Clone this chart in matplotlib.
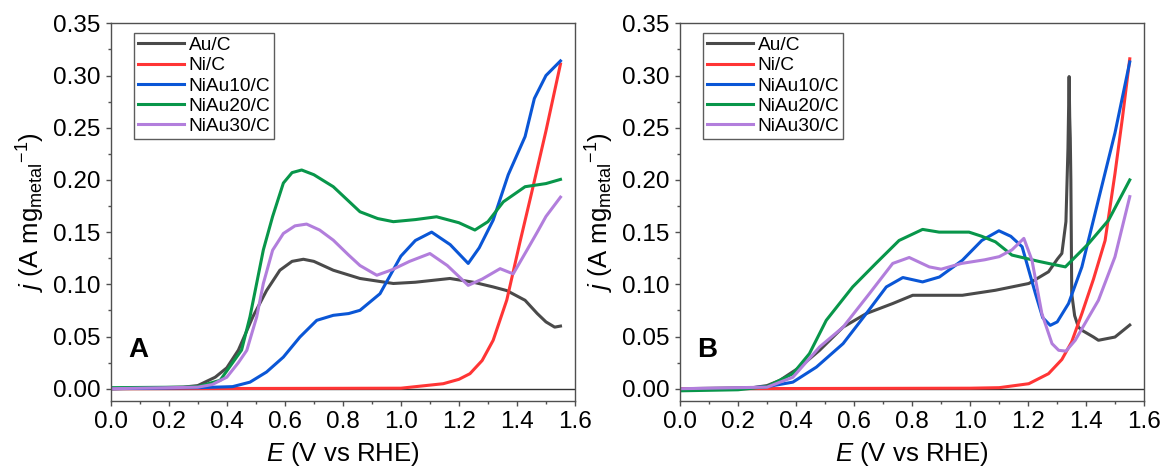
import matplotlib
matplotlib.use('Agg')
import matplotlib.pyplot as plt
from matplotlib.ticker import MultipleLocator

plt.rcParams['font.family'] = ['Liberation Sans', 'DejaVu Sans']
plt.rcParams['mathtext.fontset'] = 'custom'
plt.rcParams['mathtext.rm'] = 'Liberation Sans'
plt.rcParams['mathtext.it'] = 'Liberation Sans:italic'

labels = ['Au/C', 'Ni/C', 'NiAu10/C', 'NiAu20/C', 'NiAu30/C']
colors = ['#4a4a4a', '#ff3535', '#0a56d6', '#08964a', '#b27edc']

# ---- panel A ----
a_au_x = [0.0, 0.25, 0.3, 0.36, 0.4, 0.44, 0.49, 0.537, 0.583, 0.625, 0.664, 0.7, 0.767,
          0.859, 0.974, 1.05, 1.169, 1.25, 1.318, 1.365, 1.428, 1.47, 1.5, 1.53, 1.55]
a_au_y = [0.0, 0.0015, 0.003, 0.011, 0.020, 0.037, 0.069, 0.094, 0.1135, 0.122, 0.124,
          0.122, 0.1135, 0.1056, 0.1008, 0.102, 0.1056, 0.102, 0.0975, 0.094, 0.0847,
          0.072, 0.064, 0.059, 0.060]
a_ni_x = [0.0, 1.0, 1.146, 1.2, 1.238, 1.28, 1.318, 1.365, 1.41, 1.45, 1.5, 1.55]
a_ni_y = [0.0, 0.0005, 0.0048, 0.009, 0.0144, 0.027, 0.0464, 0.085, 0.140, 0.187, 0.247, 0.311]
a_10_x = [0.0, 0.3, 0.42, 0.48, 0.537, 0.595, 0.652, 0.71, 0.767, 0.82, 0.859, 0.928, 0.97,
          1.0, 1.05, 1.106, 1.17, 1.232, 1.27, 1.318, 1.37, 1.428, 1.46, 1.5, 1.55]
a_10_y = [0.0, 0.001, 0.002, 0.0063, 0.016, 0.0303, 0.0495, 0.0655, 0.0703, 0.072, 0.0751,
          0.091, 0.112, 0.127, 0.142, 0.150, 0.138, 0.120, 0.135, 0.1615, 0.205, 0.2415,
          0.278, 0.300, 0.314]
a_20_x = [0.0, 0.25, 0.3, 0.377, 0.451, 0.48, 0.503, 0.526, 0.558, 0.595, 0.625, 0.658, 0.7,
          0.767, 0.859, 0.92, 0.974, 1.05, 1.123, 1.2, 1.255, 1.3, 1.353, 1.428, 1.5, 1.55]
a_20_y = [0.001, 0.0015, 0.002, 0.008, 0.037, 0.069, 0.101, 0.133, 0.165, 0.197, 0.207,
          0.2095, 0.205, 0.1935, 0.1695, 0.163, 0.160, 0.162, 0.1647, 0.159, 0.152, 0.160,
          0.179, 0.1935, 0.1965, 0.2005]
a_30_x = [0.0, 0.3, 0.35, 0.4, 0.44, 0.469, 0.503, 0.526, 0.558, 0.595, 0.635, 0.675, 0.72,
          0.767, 0.82, 0.859, 0.917, 0.97, 1.03, 1.1, 1.16, 1.232, 1.28, 1.342, 1.387, 1.435,
          1.47, 1.5, 1.55]
a_30_y = [0.0, 0.0015, 0.004, 0.011, 0.025, 0.0368, 0.0687, 0.1008, 0.1327, 0.1487, 0.156,
          0.1577, 0.152, 0.1423, 0.128, 0.118, 0.1087, 0.114, 0.122, 0.1295, 0.118, 0.099,
          0.105, 0.115, 0.110, 0.133, 0.150, 0.165, 0.1835]

# ---- panel B ----
b_au_x = [0.0, 0.25, 0.3, 0.344, 0.413, 0.481, 0.562, 0.642, 0.733, 0.802, 0.894, 0.973,
          1.087, 1.202, 1.27, 1.3, 1.316, 1.33, 1.337, 1.341, 1.343, 1.345, 1.347, 1.35, 1.36,
          1.373, 1.385, 1.425, 1.442, 1.499, 1.55]
b_au_y = [0.0, 0.001, 0.003, 0.008, 0.0207, 0.0368, 0.059, 0.072, 0.0816, 0.0895, 0.0895,
          0.0895, 0.0943, 0.1008, 0.112, 0.124, 0.1296, 0.160, 0.230, 0.299, 0.260, 0.240,
          0.200, 0.091, 0.070, 0.059, 0.056, 0.0495, 0.0464, 0.0495, 0.061]
b_ni_x = [0.0, 1.0, 1.1, 1.202, 1.27, 1.316, 1.35, 1.385, 1.425, 1.465, 1.499, 1.525, 1.55]
b_ni_y = [0.0, 0.0005, 0.001, 0.0048, 0.0144, 0.028, 0.045, 0.072, 0.105, 0.142, 0.206,
          0.260, 0.316]
b_10_x = [0.0, 0.2, 0.3, 0.389, 0.47, 0.562, 0.642, 0.711, 0.768, 0.836, 0.894, 0.973, 1.04,
          1.099, 1.14, 1.179, 1.225, 1.25, 1.276, 1.3, 1.339, 1.385, 1.442, 1.499, 1.55]
b_10_y = [-0.001, 0.0, 0.002, 0.0063, 0.0207, 0.0432, 0.072, 0.0975, 0.1065, 0.1023, 0.107,
          0.123, 0.142, 0.1513, 0.146, 0.136, 0.091, 0.068, 0.0607, 0.064, 0.0816, 0.1167,
          0.181, 0.245, 0.313]
b_20_x = [0.0, 0.2, 0.3, 0.389, 0.446, 0.504, 0.595, 0.675, 0.755, 0.836, 0.893, 0.996, 1.04,
          1.087, 1.144, 1.236, 1.27, 1.328, 1.408, 1.477, 1.55]
b_20_y = [-0.002, -0.001, 0.002, 0.0144, 0.0336, 0.0655, 0.0975, 0.120, 0.142, 0.1526, 0.150,
          0.150, 0.146, 0.1407, 0.128, 0.122, 0.120, 0.1167, 0.139, 0.1615, 0.200]
b_30_x = [0.0, 0.3, 0.389, 0.481, 0.562, 0.653, 0.733, 0.79, 0.859, 0.9, 0.97, 1.05, 1.1,
          1.144, 1.185, 1.213, 1.247, 1.282, 1.305, 1.33, 1.362, 1.442, 1.499, 1.55]
b_30_y = [0.0, 0.0015, 0.011, 0.040, 0.059, 0.0912, 0.120, 0.1257, 0.1167, 0.1145, 0.120,
          0.1235, 0.1265, 0.133, 0.144, 0.123, 0.072, 0.0432, 0.0368, 0.036, 0.0464, 0.0847,
          0.1263, 0.184]

panels = [
    ('A', [(a_au_x, a_au_y), (a_ni_x, a_ni_y), (a_10_x, a_10_y), (a_20_x, a_20_y), (a_30_x, a_30_y)]),
    ('B', [(b_au_x, b_au_y), (b_ni_x, b_ni_y), (b_10_x, b_10_y), (b_20_x, b_20_y), (b_30_x, b_30_y)]),
]

fig = plt.figure(figsize=(11.63, 4.72), dpi=100)
lefts = [0.0952, 0.5847]
edge = '#505050'

for left, (tag, series) in zip(lefts, panels):
    ax = fig.add_axes([left, 0.151, 0.3992, 0.7996])
    ax.axhline(0, color='#333333', lw=1.0, zorder=1)
    for (x, y), lab, c in zip(series, labels, colors):
        ax.plot(x, y, color=c, lw=2.2, label=lab, zorder=2, solid_joinstyle='round')
    ax.set_xlim(0, 1.6)
    ax.set_ylim(-0.0115, 0.35)
    ax.xaxis.set_major_locator(MultipleLocator(0.2))
    ax.xaxis.set_minor_locator(MultipleLocator(0.1))
    ax.yaxis.set_major_locator(MultipleLocator(0.05))
    ax.yaxis.set_minor_locator(MultipleLocator(0.025))
    ax.xaxis.set_major_formatter(plt.FuncFormatter(lambda v, p: f'{v:.1f}'))
    ax.yaxis.set_major_formatter(plt.FuncFormatter(lambda v, p: f'{v:.2f}'))
    ax.tick_params(which='major', direction='out', length=3.5, width=1, labelsize=17.5,
                   color=edge, pad=4)
    ax.tick_params(which='minor', direction='out', length=2, width=1, color=edge)
    for s in ax.spines.values():
        s.set_color(edge)
        s.set_linewidth(1.0)
    ax.set_xlabel(r'$E$ (V vs RHE)', fontsize=18.5, labelpad=5)
    ax.set_ylabel(r'$j$ (A mg$_{\mathrm{metal}}$$^{-1}$)', fontsize=18.5, labelpad=4)
    leg = ax.legend(loc='upper left', bbox_to_anchor=(0.05, 0.975), fontsize=13.8,
                    frameon=True, fancybox=False, handlelength=2.4, handletextpad=0.25,
                    labelspacing=0.15, borderpad=0.2, borderaxespad=0.0)
    leg.get_frame().set_edgecolor('#333333')
    leg.get_frame().set_linewidth(1.0)
    ax.text(0.037, 0.134, tag, transform=ax.transAxes, fontsize=20, fontweight='bold',
            va='center', ha='left')

fig.savefig('out.png', dpi=100)
